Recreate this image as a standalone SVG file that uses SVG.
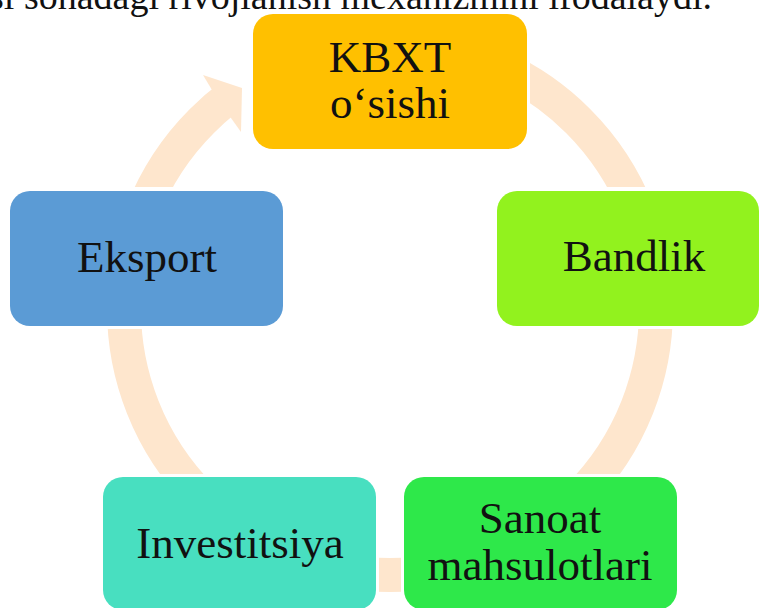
<svg xmlns="http://www.w3.org/2000/svg" width="759" height="608" viewBox="0 0 759 608">
  <style>
    .lbl { font-family: "Liberation Serif", "Times New Roman", serif; font-size: 45px; fill: #111111; text-anchor: middle; }
    .hdr { font-family: "Liberation Serif", "Times New Roman", serif; font-size: 38px; fill: #111111; text-anchor: end; }
    .ring { fill: none; stroke: #FEE6CD; stroke-width: 34; }
    .arrowhead { fill: #FEE6CD; }
  </style>
  <defs>
    <mask id="ringMask" maskUnits="userSpaceOnUse" x="0" y="0" width="759" height="608">
      <rect x="0" y="0" width="759" height="608" fill="#fff"/>
      <rect x="250" y="11" width="280" height="141" fill="#000"/>
      <rect x="494" y="187" width="270" height="142" fill="#000"/>
      <rect x="401" y="474" width="279" height="140" fill="#000"/>
      <rect x="100" y="474" width="279" height="140" fill="#000"/>
      <rect x="7" y="187" width="279" height="142" fill="#000"/>
      <polygon points="193,60 251,147 260,147 260,40 193,40" fill="#000"/>
    </mask>
  </defs>

  <text class="hdr" x="712" y="9">si sohadagi rivojlanish mexanizmini ifodalaydi.</text>

  <g id="connectors">
    <circle class="ring" cx="390" cy="309" r="266" mask="url(#ringMask)"/>
    <polygon class="arrowhead" points="212,90 203,75 242,88 241,132 231,118"/>
  </g>

  <g id="node-kbxt">
    <rect x="253" y="14" width="274" height="135" rx="20" fill="#FFC000"/>
    <text class="lbl" x="390" y="72">KBXT</text>
    <text class="lbl" x="390" y="118">o‘sishi</text>
  </g>

  <g id="node-bandlik">
    <rect x="497" y="191" width="262" height="135" rx="20" fill="#92F21E"/>
    <text class="lbl" x="634" y="271">Bandlik</text>
  </g>

  <g id="node-sanoat">
    <rect x="404" y="477" width="273" height="133" rx="20" fill="#2EE84A"/>
    <text class="lbl" x="540" y="533">Sanoat</text>
    <text class="lbl" x="540" y="580">mahsulotlari</text>
  </g>

  <g id="node-investitsiya">
    <rect x="103" y="477" width="273" height="133" rx="20" fill="#48DFC0"/>
    <text class="lbl" x="240" y="558">Investitsiya</text>
  </g>

  <g id="node-eksport">
    <rect x="10" y="191" width="273" height="135" rx="20" fill="#5B9BD5"/>
    <text class="lbl" x="147" y="272">Eksport</text>
  </g>
</svg>
